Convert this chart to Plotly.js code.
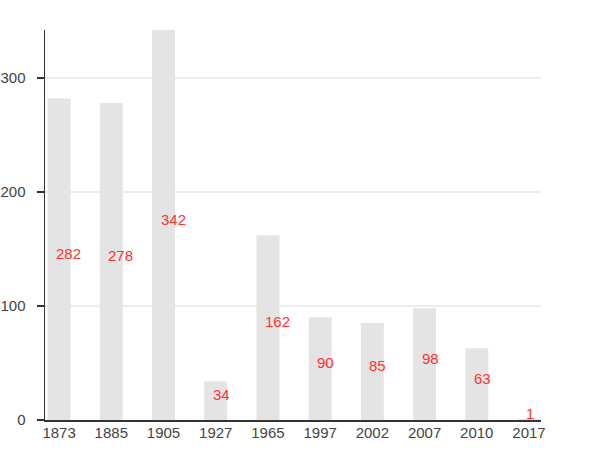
<!DOCTYPE html>
<html>
<head>
<meta charset="utf-8">
<script src="https://cdn.plot.ly/plotly-3.0.1.min.js"></script>
<style>html,body{margin:0;padding:0;background:#fff;}#chart{width:600px;height:450px;}</style>
</head>
<body>
<div id="chart"></div>
<script>
const years = ["1873","1885","1905","1927","1965","1997","2002","2007","2010","2017"];
const counts = [282, 278, 342, 34, 162, 90, 85, 98, 63, 1];

const annotations = years.map((y, i) => ({
  x: i,
  y: counts[i] / 2,
  xref: 'x', yref: 'y',
  text: String(counts[i]),
  showarrow: false,
  xanchor: 'left',
  yanchor: 'middle',
  xshift: -5,
  yshift: 6,
  font: {family: 'Liberation Sans, Arial, sans-serif', size: 15, color: '#ff3333'}
}));

const trace = {
  type: 'bar',
  x: years,
  y: counts,
  width: 0.44,
  marker: {color: '#e4e4e4', line: {width: 0}},
  hoverinfo: 'none'
};

const layout = {
  width: 600, height: 450,
  margin: {l: 45, r: 59, t: 30, b: 30, pad: 0},
  paper_bgcolor: '#ffffff',
  plot_bgcolor: '#ffffff',
  showlegend: false,
  font: {family: 'Liberation Sans, Arial, sans-serif', size: 15, color: '#444'},
  xaxis: {
    type: 'category',
    range: [-0.27, 9.23],
    showgrid: false,
    showline: true,
    linecolor: '#333',
    linewidth: 1.5,
    ticks: '',
    ticklabelstandoff: -2,
    tickfont: {size: 15, color: '#444'},
    zeroline: false
  },
  yaxis: {
    range: [0, 342],
    tickvals: [0, 100, 200, 300],
    showgrid: true,
    gridcolor: '#ececec',
    gridwidth: 1.5,
    showline: true,
    linecolor: '#333',
    linewidth: 1.5,
    ticks: 'outside',
    ticklen: 7,
    tickcolor: '#333',
    tickwidth: 1.5,
    ticklabelstandoff: 8,
    tickfont: {size: 15, color: '#444'},
    zeroline: false
  },
  annotations: annotations
};

Plotly.newPlot('chart', [trace], layout, {displayModeBar: false, staticPlot: true});
</script>
</body>
</html>
